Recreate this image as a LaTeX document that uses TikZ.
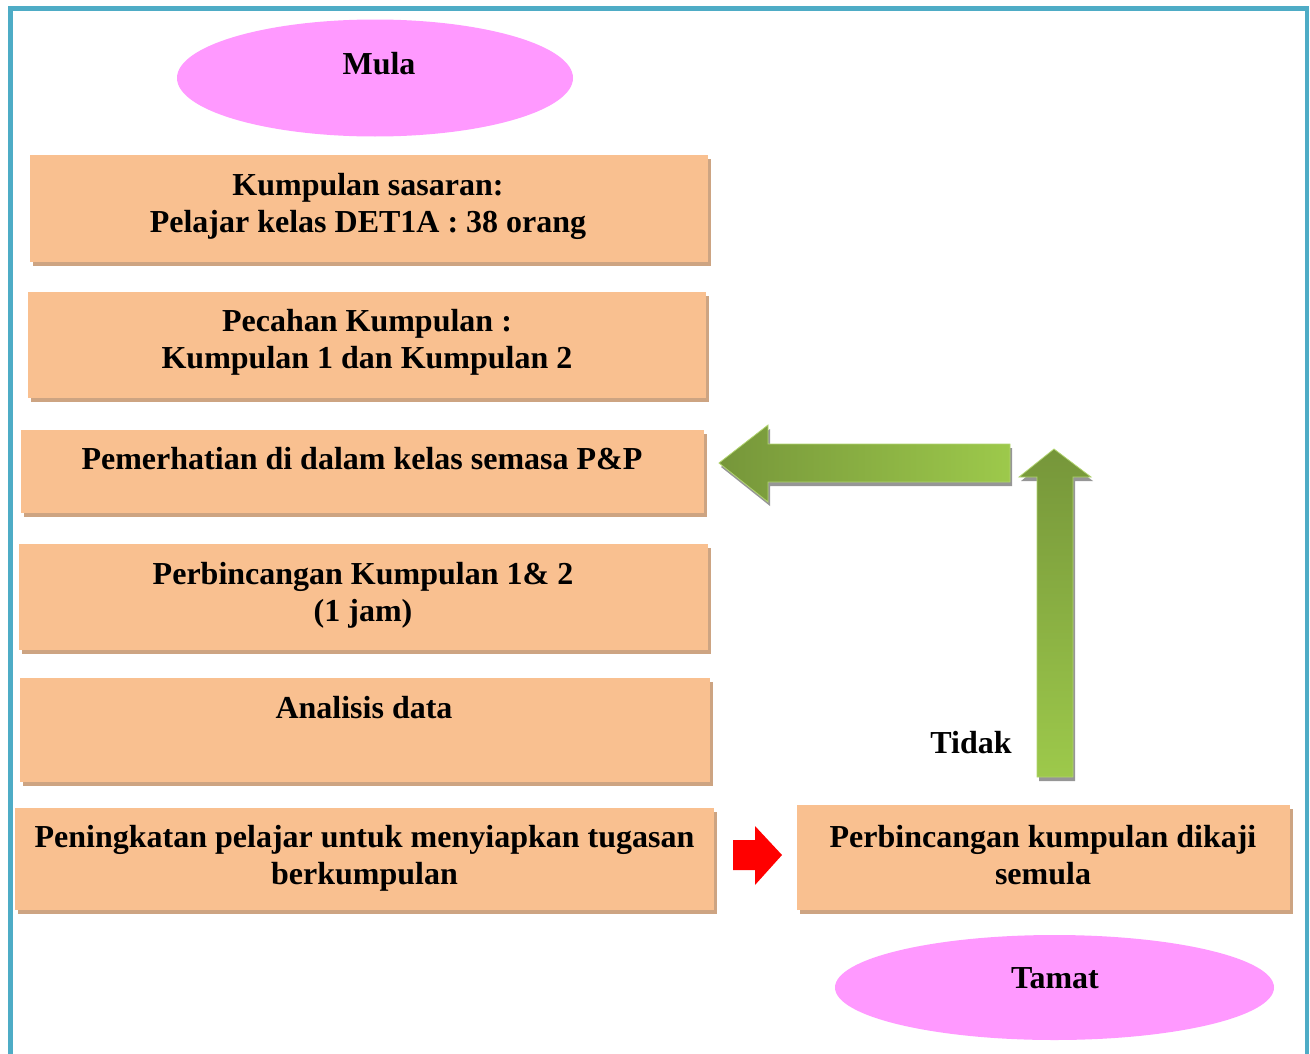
\documentclass[tikz,border=0pt]{standalone}
\usepackage{fontspec}
\setmainfont{Liberation Serif}
\definecolor{frame}{RGB}{78,172,198}
\definecolor{boxfill}{RGB}{249,192,144}
\definecolor{boxshadow}{RGB}{205,164,130}
\definecolor{ellfill}{RGB}{255,153,255}
\definecolor{gdark}{RGB}{118,150,58}
\definecolor{glight}{RGB}{157,201,75}
\definecolor{gshadow}{RGB}{150,150,150}
\tikzset{
  stepbox/.style={fill=boxfill, draw=none, inner sep=0pt},
  boxshade/.style={fill=boxshadow, draw=none},
  txt/.style={font=\fontsize{24}{27.75}\selectfont\bfseries, align=center, inner sep=0pt},
  term/.style={ellipse, fill=ellfill, draw=none, inner sep=0pt},
}
\usetikzlibrary{shapes.geometric}
\begin{document}
\begin{tikzpicture}[x=0.75pt,y=-0.75pt]
\useasboundingbox (0,0) rectangle (1310,1053);
\begin{scope}
\clip (0,0) rectangle (1310,1053);
% frame
\draw[frame, line width=3.6pt] (10.5,1060) -- (10.5,8.5) -- (1307,8.5) -- (1307,1060);
\end{scope}

% terminals
\node[term, minimum width=297pt, minimum height=87.75pt] (mula) at (375,78) {};
\node[txt] (tmula) at (379,64) {Mula};
\node[term, minimum width=329.25pt, minimum height=78.75pt] (tamat) at (1054.5,987.5) {};
\node[txt] (ttamat) at (1055,978) {Tamat};

% boxes with shadows
\foreach \xa/\ya/\xb/\yb in {30/155/708/262, 28/292/706/398, 21/430/704/513, 19/544/708/650, 20/678/710/782, 15/808/714/910, 797/805/1290/910}{
  \fill[boxshadow] (\xa+3,\ya+4) rectangle (\xb+3,\yb+4);
  \fill[boxfill] (\xa,\ya) rectangle (\xb,\yb);
}

\node[txt] (t1) at (368,206) {Kumpulan sasaran:\\Pelajar kelas DET1A : 38 orang};
\node[txt] (t2) at (367,342) {Pecahan Kumpulan :\\Kumpulan 1 dan Kumpulan 2};
\node[txt] (t3) at (362,459) {Pemerhatian di dalam kelas semasa P\&P};
\node[txt] (t4) at (363,595) {Perbincangan Kumpulan 1\& 2\\(1 jam)};
\node[txt] (t5) at (364,708) {Analisis data};
\node[txt] (t6) at (364.5,858) {Peningkatan pelajar untuk menyiapkan tugasan\\berkumpulan};
\node[txt] (t7) at (1043,855) {Perbincangan kumpulan dikaji\\semula};
\node[txt] (tidak) at (971,743) {Tidak};

% red arrow
\fill[red] (733,840) -- (755,840) -- (755,826) -- (782,855) -- (755,885) -- (755,870) -- (733,870) -- cycle;

% green left arrow: shadow then body
\fill[gshadow] (721,467) -- (770,429) -- (770,448) -- (1012,448) -- (1012,486) -- (770,486) -- (770,506) -- cycle;
\shade[left color=gdark, right color=glight, draw=glight!80!white, line width=0.6pt]
  (719,463) -- (768,425) -- (768,444) -- (1010,444) -- (1010,482) -- (768,482) -- (768,502) -- cycle;

% green up arrow: shadow then body
\fill[gshadow] (1056,453) -- (1093,481) -- (1075,481) -- (1075,781) -- (1039,781) -- (1039,481) -- (1021,481) -- cycle;
\shade[top color=gdark, bottom color=glight, draw=glight!80!white, line width=0.6pt]
  (1054,449) -- (1091,477) -- (1073,477) -- (1073,777) -- (1037,777) -- (1037,477) -- (1019,477) -- cycle;
\end{tikzpicture}
\end{document}
